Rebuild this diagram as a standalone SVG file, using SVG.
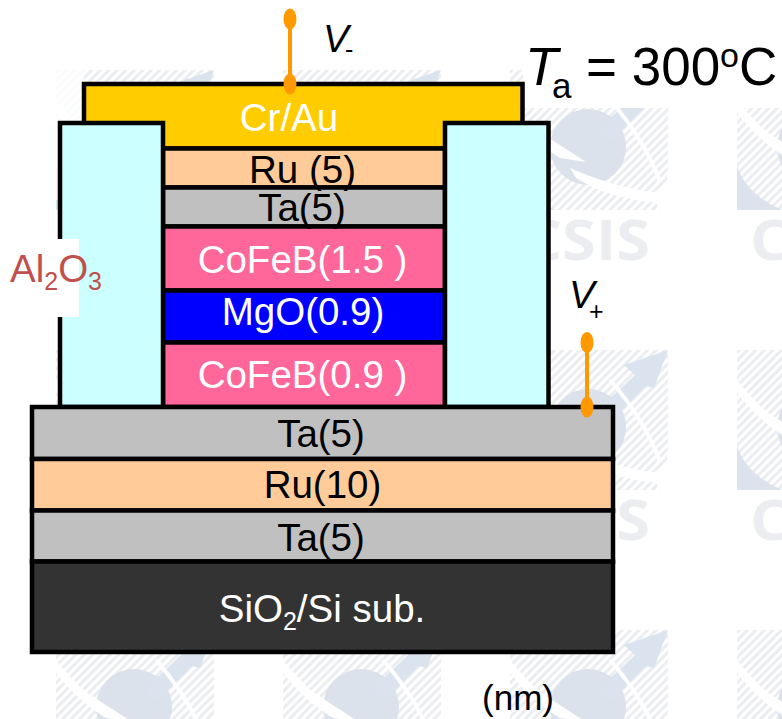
<svg xmlns="http://www.w3.org/2000/svg" width="782" height="719" viewBox="0 0 782 719">
<style>
text{font-family:"Liberation Sans",Arial,sans-serif;font-size:38.500px;text-anchor:middle}
.k{fill:#000}.w{fill:#fff}
.l{stroke:#000;stroke-width:4.5}
.lead{stroke:#f90;stroke-width:4;fill:none}
.dot{fill:#f90}
.it{font-style:italic;text-anchor:start}
.st{text-anchor:start}
.s{font-size:25px}
.wm{font-family:"Open Sans","Liberation Sans",sans-serif;font-weight:700;font-size:56px;fill:#ebedf0;text-anchor:start}
</style>
<defs>
<pattern id="hatch" width="6" height="6" patternUnits="userSpaceOnUse" patternTransform="rotate(45)">
<rect width="6" height="6" fill="#fff"/><rect width="3" height="6" fill="#ebedf0"/>
</pattern>
<g id="tile">
<path d="M0 0H158V100Q158 122 140 122L150 140H12Q0 125 0 100Z" fill="url(#hatch)"/>
<path d="M0 96Q10 125 45 140H0Z" fill="#dde3ec"/>
<circle cx="78" cy="77" r="38" fill="#dce2eb"/>
<path d="M158 0L114 15L125 25L88 60L100 72L136 36L144 38Z" fill="#dbe3ee"/>
<path d="M-2 28Q25 60 36 66L76 92L50 88Q20 70 -2 40Z" fill="#fff"/>
<path d="M60 98Q110 120 158 124V134Q100 130 66 108Z" fill="#fff"/>
<path d="M100 30Q135 70 150 112" fill="none" stroke="#fff" stroke-width="4"/>
<text class="wm" x="13" y="190" textLength="127" lengthAdjust="spacingAndGlyphs">CSIS</text>
</g>
</defs>
<rect id="bg" width="782" height="719" fill="#fff"/>
<g id="watermark">
<use href="#tile" x="56" y="70"/><use href="#tile" x="283" y="70"/><use href="#tile" x="510" y="70"/><use href="#tile" x="737" y="70"/>
<use href="#tile" x="56" y="350"/><use href="#tile" x="283" y="350"/><use href="#tile" x="510" y="350"/><use href="#tile" x="737" y="350"/>
<use href="#tile" x="56" y="630"/><use href="#tile" x="283" y="630"/><use href="#tile" x="510" y="630"/><use href="#tile" x="737" y="630"/>
<rect x="523" y="0" width="259" height="108" fill="#fff"/>
<rect x="50" y="70" width="34" height="130" fill="#fff" opacity=".75"/>
</g>
<g id="cr-au"><rect class="l" x="84" y="84" width="438.500" height="64.500" fill="#fc0"/></g>
<g id="ru-top"><rect class="l" x="163" y="148.500" width="282" height="39" fill="#fc9"/></g>
<g id="ta-top"><rect class="l" x="163" y="187.500" width="282" height="39" fill="#c0c0c0"/></g>
<g id="cofeb-top"><rect class="l" x="163" y="226.500" width="282" height="64" fill="#f69"/></g>
<g id="mgo"><rect class="l" x="163" y="290.500" width="282" height="52" fill="#00f"/></g>
<g id="cofeb-bottom"><rect class="l" x="163" y="342.500" width="282" height="64.500" fill="#f69"/></g>
<g id="al2o3-left"><rect class="l" x="60" y="123" width="103" height="284" fill="#cff"/></g>
<g id="al2o3-right"><rect class="l" x="445" y="123" width="103.500" height="284" fill="#cff"/></g>
<g id="ta-1"><rect class="l" x="32" y="407" width="581" height="52" fill="#c0c0c0"/></g>
<g id="ru-bottom"><rect class="l" x="32" y="459" width="581" height="51.500" fill="#fc9"/></g>
<g id="ta-2"><rect class="l" x="32" y="510.500" width="581" height="51" fill="#c0c0c0"/></g>
<g id="substrate"><rect class="l" x="32" y="561.500" width="581" height="90.500" fill="#333"/></g>
<g id="connectors">
<path class="lead" d="M290 19V84"/>
<ellipse class="dot" cx="290" cy="19" rx="6.500" ry="10.500"/>
<ellipse class="dot" cx="290" cy="84" rx="6.500" ry="10.500"/>
<path class="lead" d="M587 342V407"/>
<ellipse class="dot" cx="587" cy="342.500" rx="6.500" ry="10.500"/>
<ellipse class="dot" cx="587" cy="407" rx="6.500" ry="10.500"/>
</g>
<g id="labels">
<text class="w" x="289" y="131">Cr/Au</text>
<text class="k" x="302.500" y="182.500">Ru (5)</text>
<text class="k" x="302" y="220.500">Ta(5)</text>
<text class="w" x="302.500" y="272.500">CoFeB(1.5 )</text>
<text class="w" x="303" y="325">MgO(0.9)</text>
<text class="w" x="302.500" y="388">CoFeB(0.9 )</text>
<text class="k" x="321" y="447">Ta(5)</text>
<text class="k" x="322.500" y="498">Ru(10)</text>
<text class="k" x="321" y="551">Ta(5)</text>
<text class="w" x="322" y="622">SiO<tspan class="s" dy="8">2</tspan><tspan dy="-8">/Si sub.</tspan></text>
<rect x="0" y="239" width="79" height="78" fill="#fff"/>
<text x="56" y="282" fill="#c0504d">Al<tspan class="s" dy="8">2</tspan><tspan dy="-8">O</tspan><tspan class="s" dy="8">3</tspan></text>
<text class="it" x="323" y="52">V</text>
<text class="st s" x="345" y="58">-</text>
<text class="it" x="569" y="308">V</text>
<text class="st s" x="589" y="320">+</text>
<text class="it" x="525" y="85" style="font-size:54px">T</text>
<text class="st" x="552" y="98" style="font-size:35px">a</text>
<text class="st" x="586" y="85" style="font-size:53px">= 300<tspan style="font-size:34px" dy="-18">o</tspan><tspan dy="18">C</tspan></text>
<text class="k" x="518" y="710" style="font-size:35px">(nm)</text>
</g>
</svg>
